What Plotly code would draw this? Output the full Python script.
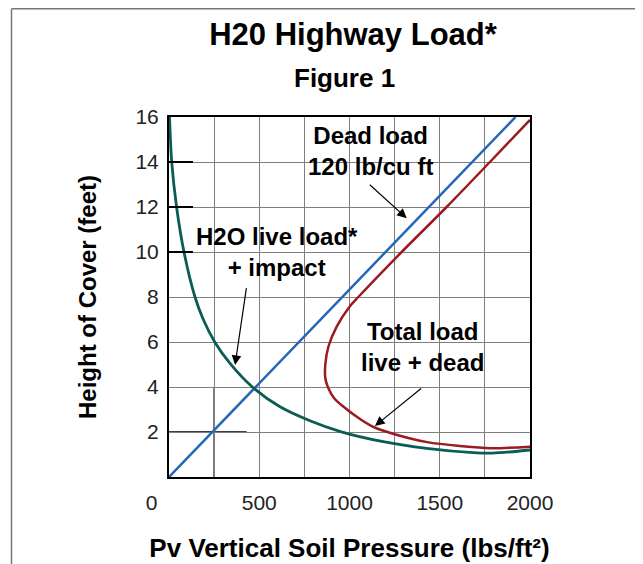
import plotly.graph_objects as go

# ---------------- data ----------------
dead_x = [0, 1920]
dead_y = [0, 16]

live_x = [3, 15, 42, 83, 144, 190, 255, 338, 462, 615, 781, 950, 1187, 1427, 1686, 1790, 2000]
live_y = [16, 14, 12, 10, 8, 7, 5.98, 5.05, 4.0, 3.12, 2.5, 2.02, 1.57, 1.27, 1.08, 1.06, 1.2]

total_x = [2000, 1778, 1538, 1289, 1049, 1000, 929, 883, 866, 866, 880, 915, 955, 1060, 1140, 1250, 1430, 1620, 1780, 2000]
total_y = [15.87, 14, 12, 10, 8, 7.57, 6.68, 5.79, 5.0, 4.4, 4.0, 3.5, 3.2, 2.57, 2.2, 1.9, 1.55, 1.37, 1.28, 1.35]

x_ticks = [0, 250, 500, 750, 1000, 1250, 1500, 1750, 2000]
x_ticktext = ["0" + "\u00a0" * 6, "", "500", "", "1000", "", "1500", "", "2000"]
y_ticks = [0, 2, 4, 6, 8, 10, 12, 14, 16]
y_ticktext = ["", "2", "4", "6", "8", "10", "12", "14", "16"]

# short black marks on the left axis
mark_y = [10, 12, 14]
mark_len = 133
# black reference cross
ref_x, ref_y = 250, 2
ref_hlen, ref_vlen = 430, 4

labels = [
    ("Dead load<br>120 lb/cu ft", 1114, 14.47),
    ("H2O live load*<br>+ impact", 597, 9.98),
    ("Total load<br>live + dead", 1407, 5.79),
]
arrows = [  # tail_x, tail_y, head_x, head_y
    (1104, 13.05, 1317, 11.5),
    (430, 8.46, 366, 4.98),
    (1405, 3.99, 1141, 2.27),
]

BLUE = "#2566b8"
GREEN = "#0b5c55"
RED = "#9a1b20"
FONT = "Liberation Sans, Arial, sans-serif"

# page body adds an 8px offset; plot area sits at 169..530 x 117..477 on screen
L, T, PW, PH = 161, 109, 361, 360
W, H = 643, 564

fig = go.Figure()
fig.add_trace(go.Scatter(x=dead_x, y=dead_y, mode="lines",
                         line=dict(color=BLUE, width=2.5), hoverinfo="skip"))
fig.add_trace(go.Scatter(x=live_x, y=live_y, mode="lines",
                         line=dict(color=GREEN, width=2.8, shape="spline", smoothing=0.9),
                         hoverinfo="skip"))
fig.add_trace(go.Scatter(x=total_x, y=total_y, mode="lines",
                         line=dict(color=RED, width=2.5, shape="spline", smoothing=0.9),
                         hoverinfo="skip"))

shapes = []
for my in mark_y:
    shapes.append(dict(type="line", xref="x", yref="y", x0=0, x1=mark_len, y0=my, y1=my,
                       line=dict(color="black", width=2), layer="above"))
shapes.append(dict(type="line", xref="x", yref="y", x0=0, x1=ref_hlen, y0=ref_y, y1=ref_y,
                   line=dict(color="black", width=1.3), layer="below"))
shapes.append(dict(type="line", xref="x", yref="y", x0=ref_x, x1=ref_x, y0=0, y1=ref_vlen,
                   line=dict(color="black", width=1.3), layer="below"))
# outer page border (top and left)
bx = (3.5 - L) / PW
by = (T + PH - 0.8) / PH
shapes.append(dict(type="line", xref="paper", yref="paper", x0=bx, x1=1.5,
                   y0=by, y1=by, line=dict(color="#777777", width=1.5)))
shapes.append(dict(type="line", xref="paper", yref="paper", x0=bx, x1=bx,
                   y0=by, y1=-0.4, line=dict(color="#777777", width=1.5)))

annotations = []
for txt, ax_, ay_ in labels:
    annotations.append(dict(x=ax_, y=ay_, xref="x", yref="y", text=txt, showarrow=False,
                            font=dict(family=FONT, size=24, color="black", weight="bold"),
                            align="center"))
for tx, ty, hx, hy in arrows:
    annotations.append(dict(x=hx, y=hy, ax=tx, ay=ty, xref="x", yref="y", axref="x", ayref="y",
                            text="", showarrow=True, arrowhead=2, arrowsize=1.6,
                            arrowwidth=1.2, arrowcolor="black"))
annotations.append(dict(x=(344 - 169) / PW, y=(477 - 78) / PH, xref="paper", yref="paper",
                        text="Figure 1", showarrow=False, yanchor="middle",
                        font=dict(family=FONT, size=26, color="black", weight="bold")))

fig.update_layout(
    width=W, height=H,
    margin=dict(l=L, r=W - L - PW, t=T, b=H - T - PH),
    paper_bgcolor="white", plot_bgcolor="white",
    showlegend=False,
    title=dict(text="H20 Highway Load*", x=(353 - 169) / PW, xref="paper", xanchor="center",
               y=1 - 26 / H, yref="container", yanchor="middle",
               font=dict(family=FONT, size=31, color="black", weight="bold")),
    xaxis=dict(range=[0, 2000], tickvals=x_ticks, ticktext=x_ticktext, automargin=False,
               showgrid=True, gridcolor="#7f7f7f", gridwidth=1,
               showline=True, linecolor="black", linewidth=2, mirror=True,
               ticks="", zeroline=False, ticklabelstandoff=6,
               tickfont=dict(family=FONT, size=21, color="#222222"),
               title=dict(text="Pv Vertical Soil Pressure (lbs/ft²)", standoff=26,
                          font=dict(family=FONT, size=26, color="black", weight="bold"))),
    yaxis=dict(range=[0, 16], tickvals=y_ticks, ticktext=y_ticktext, automargin=False,
               showgrid=True, gridcolor="#7f7f7f", gridwidth=1,
               showline=True, linecolor="black", linewidth=2, mirror=True,
               ticks="", zeroline=False, ticklabelstandoff=4,
               tickfont=dict(family=FONT, size=21, color="#222222"),
               title=dict(text="Height of Cover (feet)", standoff=32,
                          font=dict(family=FONT, size=24, color="black", weight="bold"))),
    shapes=shapes, annotations=annotations,
)

fig.write_html("out.html")
